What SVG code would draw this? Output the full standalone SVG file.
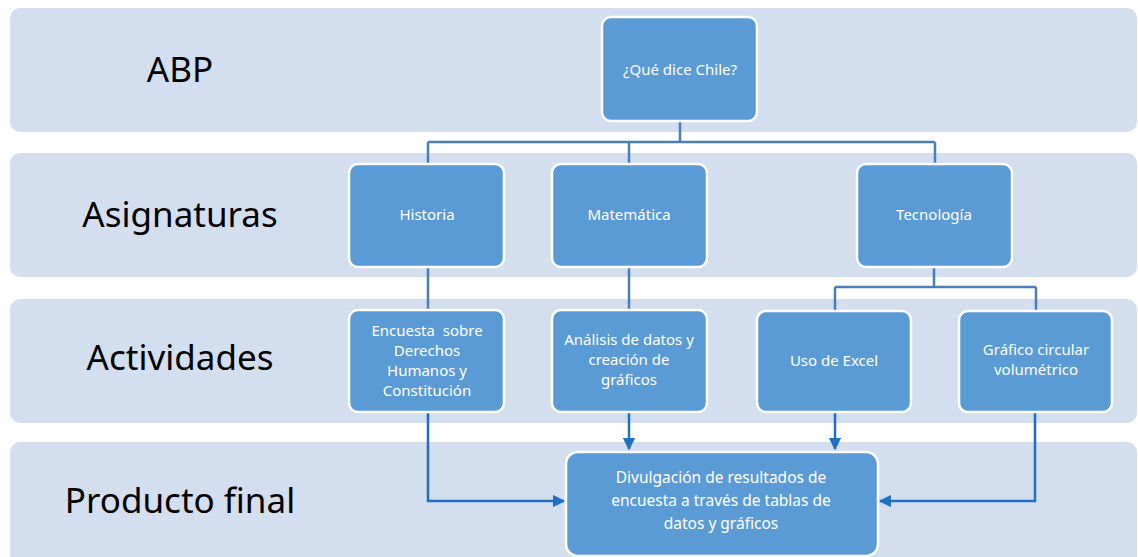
<svg xmlns="http://www.w3.org/2000/svg" width="1138" height="557" viewBox="0 0 1138 557">
<style>
.band{fill:#D3DEEE}
.lbl{font-family:"Noto Sans","Open Sans",sans-serif;font-size:35px;fill:#000;text-anchor:middle}
.node rect{fill:#5B9BD5;stroke:#fff;stroke-width:2.5}
.node text{font-family:"Noto Sans","Open Sans",sans-serif;font-size:15px;fill:#fff;text-anchor:middle}
#n-final text{font-size:15.5px}
.tree{fill:none;stroke:#4A7EBB;stroke-width:2.5}
.arr{fill:none;stroke:#1F70C1;stroke-width:2.5}
</style>
<defs>
<marker id="ah" viewBox="0 0 10 10" refX="9" refY="5" markerWidth="5" markerHeight="5" orient="auto" markerUnits="strokeWidth">
<path d="M0,0 L10,5 L0,10 z" fill="#1F70C1"/>
</marker>
</defs>
<g id="bands">
<rect class="band" x="10" y="8" width="1127" height="124" rx="10"/>
<rect class="band" x="10" y="153" width="1127" height="124" rx="10"/>
<rect class="band" x="10" y="299" width="1127" height="124" rx="10"/>
<rect class="band" x="10" y="442" width="1127" height="125" rx="10"/>
<text class="lbl" x="180" y="82">ABP</text>
<text class="lbl" x="180" y="227">Asignaturas</text>
<text class="lbl" x="180" y="370">Actividades</text>
<text class="lbl" x="180" y="513">Producto final</text>
</g>
<g id="connectors">
<path class="tree" d="M680,121 V142 M428,142 H935 M428,142 V164 M629,142 V164 M935,142 V164"/>
<path class="tree" d="M428,267 V310 M629,267 V310"/>
<path class="tree" d="M934,267 V287 M835,287 H1036 M835,287 V311 M1036,287 V311"/>
<path class="arr" marker-end="url(#ah)" d="M428,412 V501 H564"/>
<path class="arr" marker-end="url(#ah)" d="M629,412 V449"/>
<path class="arr" marker-end="url(#ah)" d="M835,412 V449"/>
<path class="arr" marker-end="url(#ah)" d="M1035,412 V501 H880"/>
</g>
<g id="n-chile" class="node"><rect x="602" y="17" width="155" height="104" rx="9"/><text x="680" y="75">¿Qué dice Chile?</text></g>
<g id="n-historia" class="node"><rect x="349" y="164" width="155" height="103" rx="9"/><text x="427" y="220">Historia</text></g>
<g id="n-matematica" class="node"><rect x="552" y="164" width="155" height="103" rx="9"/><text x="629" y="220">Matemática</text></g>
<g id="n-tecnologia" class="node"><rect x="857" y="164" width="155" height="103" rx="9"/><text x="934" y="220">Tecnología</text></g>
<g id="n-encuesta" class="node"><rect x="349" y="310" width="155" height="102" rx="9"/><text x="427" y="336">Encuesta&#160; sobre</text><text x="427" y="356">Derechos</text><text x="427" y="376">Humanos y</text><text x="427" y="396">Constitución</text></g>
<g id="n-analisis" class="node"><rect x="552" y="310" width="155" height="102" rx="9"/><text x="629" y="345">Análisis de datos y</text><text x="629" y="365">creación de</text><text x="629" y="385">gráficos</text></g>
<g id="n-excel" class="node"><rect x="757" y="311" width="154" height="101" rx="9"/><text x="834" y="366">Uso de Excel</text></g>
<g id="n-grafico" class="node"><rect x="959" y="311" width="153" height="101" rx="9"/><text x="1036" y="355">Gráfico circular</text><text x="1036" y="375">volumétrico</text></g>
<g id="n-final" class="node"><rect x="566" y="452" width="312" height="104" rx="12"/><text x="721" y="483">Divulgación de resultados de</text><text x="721" y="506">encuesta a través de tablas de</text><text x="721" y="529">datos y gráficos</text></g>
</svg>
